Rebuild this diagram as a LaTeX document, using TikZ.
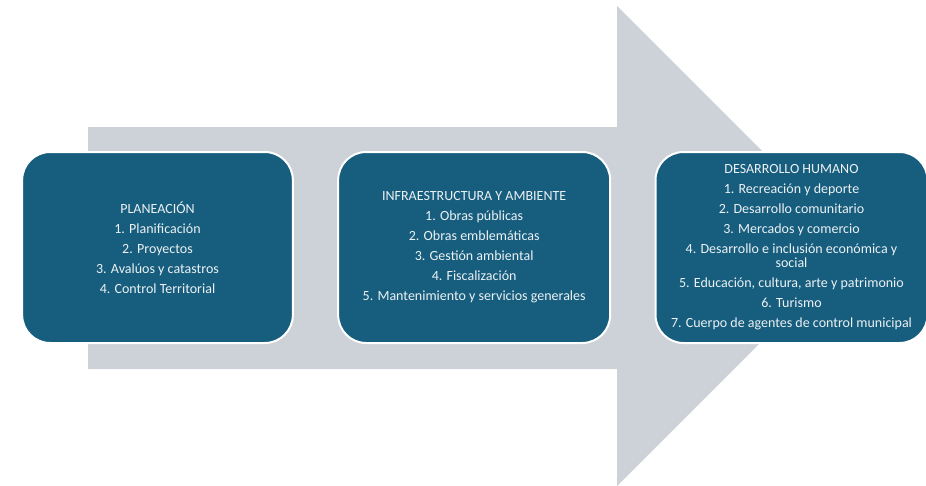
\documentclass[tikz,border=0pt]{standalone}
\usepackage{fontspec}
\setmainfont{Carlito}
\usetikzlibrary{positioning}
\definecolor{boxblue}{RGB}{23,94,126}
\definecolor{arrowgray}{RGB}{205,210,216}
\definecolor{boxtext}{RGB}{236,241,244}

\begin{document}
\begin{tikzpicture}[x=0.75pt, y=-0.75pt, node distance=32.5pt,
    area/.style={draw=white, line width=1.5pt, fill=boxblue, rounded corners=21pt,
      text=boxtext, align=center, minimum height=143.25pt, minimum width=204pt,
      font=\fontsize{10.5}{10.6}\selectfont}]
      % Рамка рисунка
      \useasboundingbox (0,0) rectangle (926,486);

      % Большая серая стрелка
      \fill[arrowgray] (88,127) -- (617,127) -- (617,6) -- (857,246) -- (617,486)
        -- (617,369) -- (88,369) -- cycle;

      % Блок 1
      \node[area, minimum width=203pt] (plan) at (157.5,247.5) {
        PLANEACIÓN\\[4.4pt]
        1. Planificación\\[4.4pt]
        2. Proyectos\\[4.4pt]
        3. Avalúos y catastros\\[4.4pt]
        4. Control Territorial};

      % Блок 2
      \node[area, right=of plan] (infra) {
        INFRAESTRUCTURA Y AMBIENTE\\[4.4pt]
        1. Obras públicas\\[4.4pt]
        2. Obras emblemáticas\\[4.4pt]
        3. Gestión ambiental\\[4.4pt]
        4. Fiscalización\\[4.4pt]
        5. Mantenimiento y servicios generales};

      % Блок 3
      \node[area, right=of infra] (desa) {
        DESARROLLO HUMANO\\[4.4pt]
        1. Recreación y deporte\\[4.4pt]
        2. Desarrollo comunitario\\[4.4pt]
        3. Mercados y comercio\\[4.4pt]
        4. Desarrollo e inclusión económica y\\
        social\\[4.4pt]
        5. Educación, cultura, arte y patrimonio\\[4.4pt]
        6. Turismo\\[4.4pt]
        7. Cuerpo de agentes de control municipal};
\end{tikzpicture}
\end{document}
